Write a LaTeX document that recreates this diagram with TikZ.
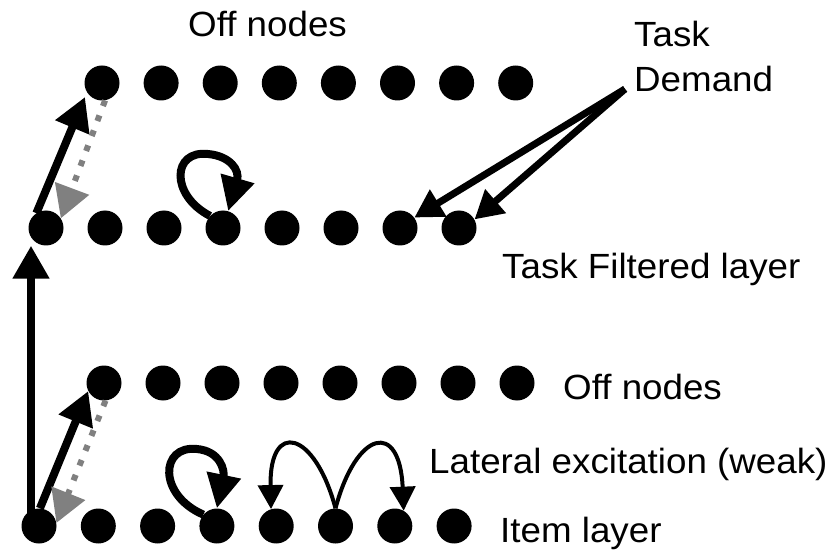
\documentclass[tikz,border=0pt]{standalone}
\usepackage{fontspec}
\setmainfont[FakeStretch=1.05]{Liberation Sans}
\usetikzlibrary{arrows.meta,calc}
\definecolor{midgray}{RGB}{128,128,128}
\tikzset{
  dot/.style={circle,fill=black,inner sep=0pt,minimum size=35pt},
  lbl/.style={inner sep=0pt,anchor=base west,font=\fontsize{35}{45}\selectfont},
  bigarrow/.style={line width=8pt,-{Triangle[length=33pt,width=35pt]}},
  grayarrow/.style={line width=6pt,draw=midgray,dash pattern=on 6pt off 10pt,
    -{Triangle[length=32pt,width=35pt,fill=midgray]}},
  loop/.style={line width=8pt,-{Triangle[length=34pt,width=33pt]}},
  thinarrow/.style={line width=4pt,-{Triangle[length=24pt,width=25pt]}},
  demarrow/.style={line width=7pt,-{Triangle[length=28pt,width=30pt]}}
}
\begin{document}
\begin{tikzpicture}[x=1pt,y=-1pt]
\useasboundingbox (0,0) rectangle (840,553);
% rows of units
\foreach \k in {1,...,8} {
  \node[dot] (t\k) at ({102+59.1*(\k-1)},83) {};
  \node[dot] (f\k) at ({46+59*(\k-1)},228) {};
  \node[dot] (o\k) at ({104+59*(\k-1)},383) {};
  \node[dot] (i\k) at ({39+59.3*(\k-1)},526) {};
}
% labels
\node[lbl] (offtop) at (188,37) {Off nodes};
\node[lbl,align=left] (demand) at (634,92) {Task\\Demand};
\node[lbl] (tfl) at (502,278) {Task Filtered layer};
\node[lbl] (offlow) at (563,399) {Off nodes};
\node[lbl] (lat) at (429,473) {Lateral excitation (weak)};
\node[lbl] (item) at (500,542) {Item layer};
% item -> task filtered
\draw[bigarrow] ([xshift=-8pt]i1.center) -- ([xshift=-8pt]i1.center |- f1.south);
% item <-> off
\draw[bigarrow] (i1.87) -- (o1.207);
\draw[grayarrow] (o1.275) -- (i1.10);
% task filtered <-> off
\draw[bigarrow] (f1.123) -- ($(t1.center)+(-17,14)$);
\draw[grayarrow] (t1.280) -- (f1.33);
% self loops
\begin{scope}[shift={(f4.center)}]
\draw[loop] (f4.137) .. controls (-53,-33) and (-51,-78) .. (-15,-74)
  .. controls (7,-72) and (17,-58) .. (f4.73);
\end{scope}
\begin{scope}[shift={(i4.center)}]
\draw[loop] (i4.140) .. controls (-59,-31) and (-57,-81) .. (-20,-77)
  .. controls (3,-75) and (8,-56) .. (i4.90);
\end{scope}
% lateral excitation
\draw[thinarrow] (i6.90) .. controls ($(i6.center)+(-21,-96)$) and ($(i5.center)+(-7,-106)$) .. (i5.107);
\draw[thinarrow] (i6.90) .. controls ($(i6.center)+(21,-96)$) and ($(i7.center)+(5,-106)$) .. (i7.60);
% task demand
\coordinate (tdsrc) at (625,89);
\draw[demarrow] (tdsrc) -- (f7.36);
\draw[demarrow] (tdsrc) -- (f8.29);
\end{tikzpicture}
\end{document}
